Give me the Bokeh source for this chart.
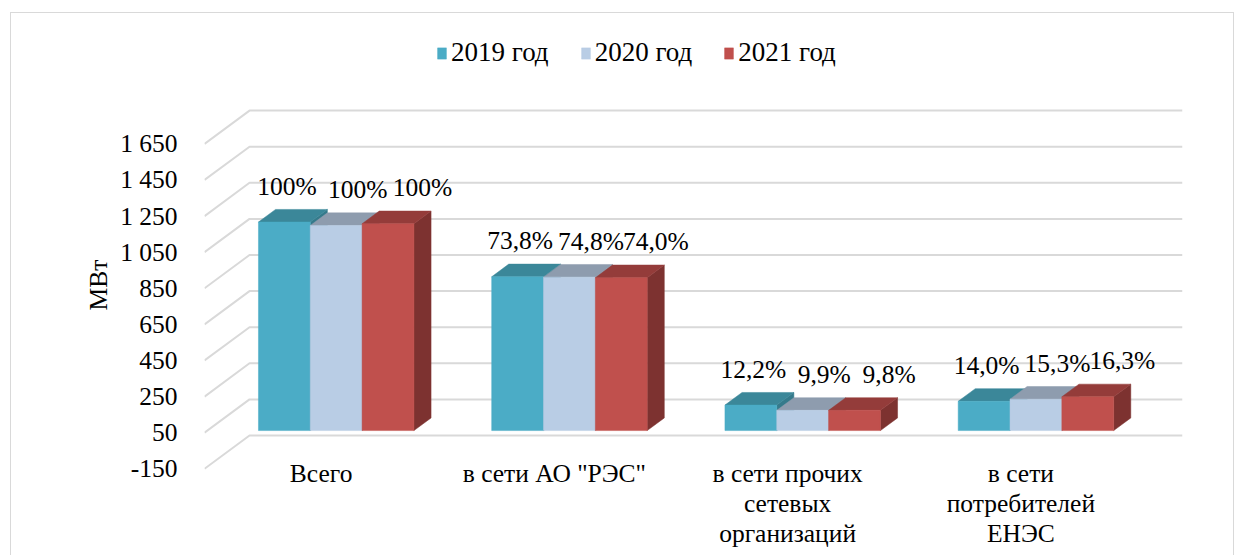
from bokeh.plotting import figure
from bokeh.models import Range1d, FixedTicker, CustomJSTickFormatter, ColumnDataSource, Legend, LegendItem
from bokeh.core.properties import value
from bokeh.embed import file_html
from bokeh.resources import INLINE

# ---------------- data ----------------
categories = ["Всего", 'в сети АО "РЭС"', "в сети прочих\nсетевых\nорганизаций", "в сети\nпотребителей\nЕНЭС"]
years = ["2019 год", "2020 год", "2021 год"]
mw_2019 = [1155, 852, 141, 162]
mw_2020 = [1136, 850, 112, 174]
mw_2021 = [1146, 847, 112, 187]
pct_2019 = ["100%", "73,8%", "12,2%", "14,0%"]
pct_2020 = ["100%", "74,8%", "9,9%", "15,3%"]
pct_2021 = ["100%", "74,0%", "9,8%", "16,3%"]
y_ticks = [-150, 50, 250, 450, 650, 850, 1050, 1250, 1450, 1650]

series_values = [mw_2019, mw_2020, mw_2021]
series_labels = [pct_2019, pct_2020, pct_2021]

# ---------------- styles / geometry ----------------
FONT = "Liberation Serif, Times New Roman, serif"
FS = "25.5px"
front_colors = ["#4BACC6", "#B9CDE5", "#C0504D"]
top_colors = ["#3B8799", "#8E9CAE", "#943C3A"]
side_colors = ["#357A8B", "#7F8C9C", "#7D3230"]
label_dx = [-6, 13, 26]

DXU = 0.193      # oblique depth shift in category units
DYU = 184.5      # oblique depth shift in value units
Z0 = 0.335       # depth of bar front faces
DZ = 0.38        # bar depth
GAP = 1.5
W = 1.0 / (3 + GAP)
n_cat = len(categories)


def proj(x, v, z):
    return x + z * DXU, v + z * DYU


p = figure(width=1224, height=543, output_backend="svg", toolbar_location=None,
           x_range=Range1d(0, n_cat + DXU), y_range=Range1d(-635.9, 2372.4),
           x_axis_location=None, min_border_left=193, min_border_right=53,
           min_border_top=0, min_border_bottom=0)
p.outline_line_color = None
p.grid.visible = False
p.background_fill_color = "white"
p.border_fill_color = "white"
p.styles = {"border-top": "1px solid #D9D9D9", "border-left": "1px solid #D9D9D9",
            "border-right": "1px solid #D9D9D9", "margin-left": "10px", "margin-top": "12px"}

# walls (side wall diagonals + back wall lines)
wx, wy = [], []
for t in y_ticks:
    a = proj(0, t, 0)
    b = proj(0, t, 1)
    c = proj(n_cat, t, 1)
    wx.append([a[0], b[0], c[0]])
    wy.append([a[1], b[1], c[1]])
p.multi_line(wx, wy, line_color="#D9D9D9", line_width=2)

# y axis
yax = p.yaxis[0]
yax.ticker = FixedTicker(ticks=y_ticks)
yax.formatter = CustomJSTickFormatter(code="return String(tick).replace(/\\B(?=(\\d{3})+(?!\\d))/g, ' ');")
yax.axis_line_color = None
yax.major_tick_line_color = None
yax.minor_tick_line_color = None
yax.major_label_standoff = 21
yax.major_label_text_font = FONT
yax.major_label_text_font_size = FS
yax.major_label_text_color = "#000000"
yax.axis_label = "МВт"
yax.axis_label_text_font = FONT
yax.axis_label_text_font_size = FS
yax.axis_label_text_font_style = "normal"
yax.axis_label_text_color = "#000000"
yax.axis_label_standoff = 4

# bars
legend_items = []
for j, vals in enumerate(series_values):
    fx, fy, tx, ty, sx, sy = [], [], [], [], [], []
    for i, h in enumerate(vals):
        xl = i + GAP / 2 * W + j * W
        xr = xl + W
        z1 = Z0 + DZ
        front = [proj(xl, 0, Z0), proj(xr, 0, Z0), proj(xr, h, Z0), proj(xl, h, Z0)]
        top = [proj(xl, h, Z0), proj(xr, h, Z0), proj(xr, h, z1), proj(xl, h, z1)]
        side = [proj(xr, 0, Z0), proj(xr, 0, z1), proj(xr, h, z1), proj(xr, h, Z0)]
        sx.append([q[0] for q in side]); sy.append([q[1] for q in side])
        tx.append([q[0] for q in top]); ty.append([q[1] for q in top])
        fx.append([q[0] for q in front]); fy.append([q[1] for q in front])
    p.patches(sx, sy, fill_color=side_colors[j], line_color=side_colors[j], line_width=0.5)
    p.patches(tx, ty, fill_color=top_colors[j], line_color=top_colors[j], line_width=0.5)
    rf = p.patches(fx, fy, fill_color=front_colors[j], line_color=front_colors[j], line_width=0.5)
    legend_items.append(LegendItem(label=years[j], renderers=[rf]))

    # data labels
    lx = [i + GAP / 2 * W + j * W + W / 2 + (Z0 + DZ / 2) * DXU for i in range(n_cat)]
    ly = [h + Z0 * DYU for h in vals]
    src = ColumnDataSource(dict(x=lx, y=ly, t=series_labels[j]))
    p.text(x="x", y="y", text="t", source=src, text_align="center", text_baseline="middle",
           x_offset=label_dx[j], y_offset=-36, text_font=value(FONT), text_font_size=FS,
           text_color="#000000")

# category labels
csrc = ColumnDataSource(dict(x=[i + 0.5 for i in range(n_cat)], y=[y_ticks[0]] * n_cat, t=categories))
p.text(x="x", y="y", text="t", source=csrc, text_align="center", text_baseline="top",
       y_offset=-10, text_font=value(FONT), text_font_size=FS, text_color="#000000",
       text_line_height=1.03)

legend = Legend(items=legend_items, orientation="horizontal", location=(232, 488),
                label_text_font=FONT, label_text_font_size="27px", label_text_color="#000000",
                glyph_width=11, glyph_height=14, label_standoff=4, spacing=31,
                padding=0, margin=0, border_line_color=None, background_fill_alpha=0)
p.add_layout(legend)

open("out.html", "w").write(file_html(p, INLINE))
